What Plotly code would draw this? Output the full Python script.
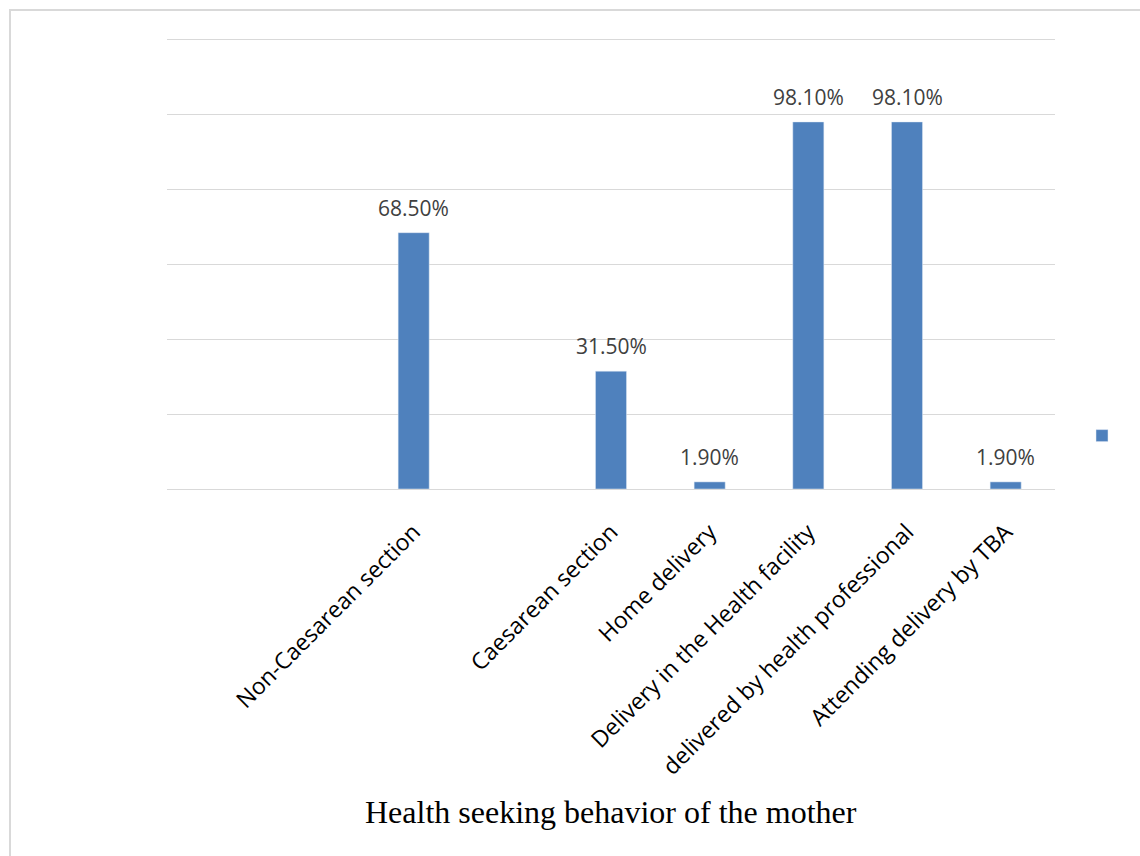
import plotly.graph_objects as go

categories = ["", "", "Non-Caesarean section", "", "Caesarean section", "Home delivery",
              "Delivery in the Health facility", "delivered by health professional",
              "Attending delivery by TBA"]
values = [None, None, 68.5, None, 31.5, 1.9, 98.1, 98.1, 1.9]
y_range = [0, 121.06]
y_dtick = 20

positions = list(range(len(categories)))
BAR = "#4f81bd"
GRID = "#d9d9d9"

fig = go.Figure()
fig.add_trace(go.Bar(x=positions, y=values, marker_color=BAR, width=0.315,
                     name=" ", showlegend=True, hoverinfo="skip"))

for xi, v in zip(positions, values):
    if v is None:
        continue
    fig.add_annotation(x=xi, y=v, xref="x", yref="y", text=f"{v:.2f}%",
                       showarrow=False, yanchor="middle", yshift=25,
                       font=dict(family="Open Sans", size=21, color="#404040"))

fig.add_annotation(x=0.5, y=(489 - 812) / 453, xref="paper", yref="paper",
                   text="Health seeking behavior of the mother", showarrow=False,
                   xanchor="center", yanchor="middle",
                   font=dict(family="Liberation Serif", size=32, color="#000000"))

fig.add_shape(type="rect", xref="paper", yref="paper",
              x0=(10 - 167) / 888, x1=1.5, y0=-2, y1=(489 - 10) / 453,
              line=dict(color=GRID, width=2), fillcolor="rgba(0,0,0,0)", layer="below")

fig.update_layout(
    width=1140, height=856,
    margin=dict(l=167, r=85, t=36, b=367, autoexpand=False),
    paper_bgcolor="white", plot_bgcolor="white",
    showlegend=True,
    legend=dict(x=(1082 - 167) / 888, y=(489 - 436) / 453, xanchor="left", yanchor="middle",
                font=dict(size=14), bgcolor="rgba(0,0,0,0)"),
    xaxis=dict(tickmode="array", tickvals=positions, ticktext=categories,
               range=[-0.5, len(categories) - 0.5], tickangle=-45,
               tickfont=dict(family="Open Sans", size=23, color="#000000"),
               ticklabelstandoff=24,
               showline=False, showgrid=False, ticks="", zeroline=False),
    yaxis=dict(range=y_range, dtick=y_dtick, showticklabels=False, showgrid=True,
               gridcolor=GRID, gridwidth=1, zeroline=True, zerolinecolor=GRID,
               zerolinewidth=1, showline=False, ticks=""),
    bargap=0.685,
)

fig.write_html("out.html")
